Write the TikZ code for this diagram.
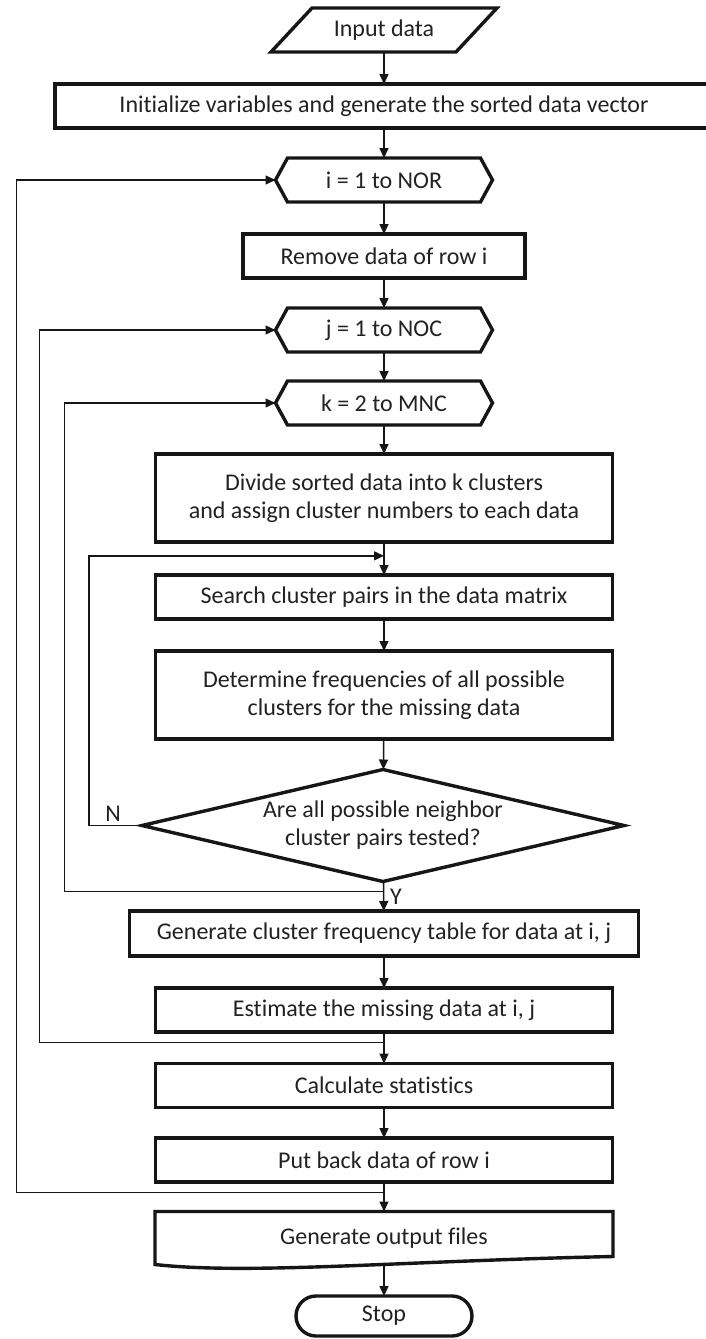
\documentclass[tikz,border=0pt]{standalone}
\usepackage{fontspec}
\setmainfont{Carlito}[Ligatures={NoCommon}]
\usetikzlibrary{arrows.meta,calc}
\definecolor{ink}{HTML}{161616}
\definecolor{txt}{HTML}{222222}
\newcommand\hexoutline[1]{\draw[outline] (#1.west) -- ([xshift=12pt]#1.north west) -- ([xshift=-12pt]#1.north east) -- (#1.east) -- ([xshift=-12pt]#1.south east) -- ([xshift=12pt]#1.south west) -- cycle;}
\begin{document}
\begin{tikzpicture}[x=1pt,y=-1pt,
  font=\fontsize{24}{28}\selectfont,
  every node/.style={inner sep=0pt, outer sep=0pt, text=txt, align=center},
  box/.style={draw=ink, line width=3.4pt, minimum height=44pt},
  plain/.style={draw=none},
  hexnode/.style={draw=none, minimum width=217pt, minimum height=44pt},
  outline/.style={draw=ink, line width=3.4pt, line join=miter},
  arr/.style={draw=ink, line width=1.5pt, -{Triangle[length=10pt,width=9pt]}},
  looparr/.style={draw=ink, line width=1.3pt, line join=miter, -{Triangle[length=10pt,width=9pt]}}
]
\useasboundingbox (0,0) rectangle (705,1339);
\fill[white] (0,0) rectangle (705,1339);

% input
\node[plain, minimum width=186pt, minimum height=44pt] (in) at (384,30) {Input data};
\draw[outline] (312,8) -- (497,8) -- (456,52) -- (271,52) -- cycle;

\node[box, minimum width=658pt] (init) at (384,106) {Initialize variables and generate the sorted data vector};

\node[hexnode] (hi) at (384,180) {i = 1 to NOR};
\hexoutline{hi}

\node[box, minimum width=282pt] (rm) at (384,256) {Remove data of row i};

\node[hexnode] (hj) at (384,330) {j = 1 to NOC};
\hexoutline{hj}

\node[hexnode] (hk) at (384,403) {k = 2 to MNC};
\hexoutline{hk}

\node[box, minimum width=457pt, minimum height=88pt] (div) at (384,498) {Divide sorted data into k clusters\\and assign cluster numbers to each data};

\node[box, minimum width=457pt] (srch) at (384,597) {Search cluster pairs in the data matrix};

\node[box, minimum width=457pt, minimum height=88pt] (det) at (384,695) {Determine frequencies of all possible\\clusters for the missing data};

\node[plain, minimum width=482pt, minimum height=112pt] (dec) at (383,825.5) {Are all possible neighbor\\cluster pairs tested?};
\draw[outline] (dec.north) -- (dec.east) -- (dec.south) -- (dec.west) -- cycle;

\node[box, minimum width=509pt, minimum height=45pt] (gen) at (384,933.5) {Generate cluster frequency table for data at i, j};

\node[box, minimum width=457pt] (est) at (384,1010) {Estimate the missing data at i, j};

\node[box, minimum width=457pt] (calc) at (384,1085.5) {Calculate statistics};

\node[box, minimum width=457pt] (put) at (384,1160) {Put back data of row i};

\node[plain, minimum width=458pt, minimum height=53pt] (out) at (384,1238) {Generate output files};
\draw[outline] (out.south west) -- (out.north west) -- (out.north east) -- ([yshift=8pt]out.south east)
  .. controls (400,1261) and (250,1275) .. (out.south west) -- cycle;

\node[draw=ink, line width=3.4pt, minimum width=176pt, minimum height=40pt, rounded corners=20pt] (stop) at (384,1316) {Stop};

% main flow
\draw[arr] (in) -- (init);
\draw[arr] (init) -- (hi);
\draw[arr] (hi) -- (rm);
\draw[arr] (rm) -- (hj);
\draw[arr] (hj) -- (hk);
\draw[arr] (hk) -- (div);
\draw[arr] (div) -- (srch);
\draw[arr] (srch) -- (det);
\draw[arr] (det) -- (dec);
\draw[arr] (dec) -- (gen);
\draw[arr] (gen) -- (est);
\draw[arr] (est) -- (calc);
\draw[arr] (calc) -- (put);
\draw[arr] (put) -- (out);
\draw[arr] (out) -- (stop);

% junctions on the main axis
\coordinate (nj) at ($(div.south)!0.42!(srch.north)$);
\coordinate (kj) at ($(dec.south)!0.33!(gen.north)$);
\coordinate (jj) at ($(est.south)!0.33!(calc.north)$);
\coordinate (ij) at ($(put.south)!0.36!(out.north)$);

% loops
\draw[looparr] (dec.west) -- ++(-53,0) |- (nj);
\draw[looparr] (kj) -| ([xshift=-211pt]hk.west) -- (hk.west);
\draw[looparr] (jj) -| ([xshift=-236pt]hj.west) -- (hj.west);
\draw[looparr] (ij) -| ([xshift=-259pt]hi.west) -- (hi.west);

% labels
\node (nlab) at (113,814) {N};
\node[anchor=west] (ylab) at (390,897) {Y};
\end{tikzpicture}
\end{document}
